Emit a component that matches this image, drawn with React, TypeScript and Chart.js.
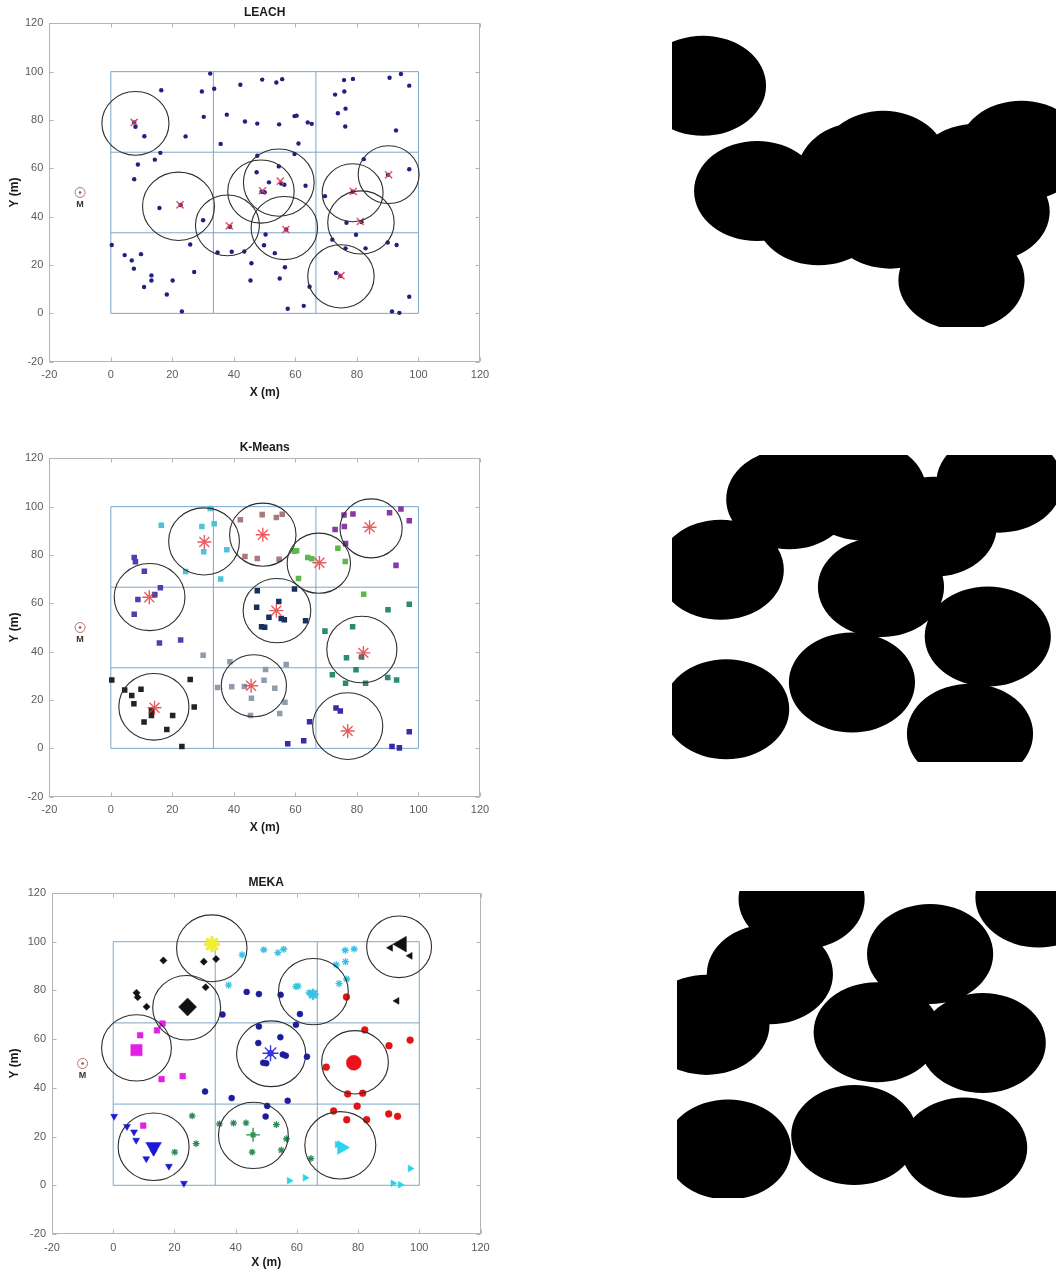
import React, { useEffect, useRef } from "react";
import { Chart, registerables } from "chart.js";

Chart.register(...registerables);

// ---------------- data ----------------
const NODE_X = [
  32.3, 16.4, 29.6, 33.6, 30.2, 37.7, 35.7, 24.3, 7.6, 8.0,
  10.9, 16.1, 14.3, 8.8, 7.6, 15.8, 22.7, 42.1, 49.2, 53.8,
  55.7, 43.6, 47.6, 54.7, 59.7, 60.4, 64.0, 65.3, 61.0, 47.6,
  59.7, 47.4, 54.6, 51.4, 55.4, 56.4, 63.3, 49.0, 50.0, 72.9,
  75.8, 78.7, 75.9, 73.8, 76.3, 76.2, 90.6, 94.3, 97.0, 92.7,
  82.2, 90.1, 97.0, 69.6, 78.6, 76.6, 81.5, 79.7, 72.0, 76.3,
  82.8, 90.0, 92.9, 30.0, 38.7, 57.0, 50.3, 49.8, 0.3, 4.5,
  6.8, 9.8, 7.5, 25.8, 13.2, 13.2, 10.8, 20.1, 27.1, 18.2,
  23.1, 34.7, 39.3, 43.4, 45.7, 45.4, 53.3, 56.6, 54.9, 64.6,
  57.5, 62.7, 73.2, 74.6, 97.0, 91.4, 93.8,
];
const NODE_Y = [
  99.2, 92.3, 91.8, 92.9, 81.3, 82.2, 70.1, 73.2, 79.0, 77.2,
  73.3, 66.4, 63.6, 61.6, 55.5, 43.6, 44.8, 94.6, 96.7, 95.5,
  96.9, 79.4, 78.5, 78.2, 81.6, 81.8, 79.0, 78.4, 70.3, 65.2,
  65.9, 58.4, 60.8, 54.2, 53.7, 53.2, 52.8, 50.3, 50.1, 90.5,
  96.5, 97.0, 91.8, 82.8, 84.7, 77.3, 97.5, 99.0, 94.2, 75.7,
  63.8, 57.3, 59.6, 48.5, 50.3, 37.5, 37.8, 32.5, 30.5, 26.9,
  26.9, 29.3, 28.3, 38.5, 35.8, 34.7, 32.6, 28.2, 28.3, 24.1,
  21.9, 24.5, 18.5, 28.5, 15.7, 13.6, 10.9, 13.6, 17.1, 7.8,
  0.8, 25.2, 25.5, 25.6, 20.7, 13.6, 24.9, 19.1, 14.4, 11.0,
  1.9, 3.1, 16.7, 15.5, 6.9, 0.8, 0.2,
];
const KMEANS_GROUP = [
  0, 0, 0, 0, 0, 0, 0, 0, 4, 4,
  4, 4, 4, 4, 4, 4, 4, 1, 1, 1,
  1, 1, 1, 1, 2, 2, 2, 2, 2, 5,
  5, 5, 5, 5, 5, 5, 5, 5, 5, 3,
  3, 3, 3, 2, 3, 2, 3, 3, 3, 3,
  2, 6, 6, 6, 6, 6, 6, 6, 6, 6,
  6, 6, 6, 8, 8, 8, 8, 8, 7, 7,
  7, 7, 7, 7, 7, 7, 7, 7, 7, 7,
  7, 8, 8, 8, 8, 8, 8, 8, 8, 9,
  9, 9, 9, 9, 9, 9, 9,
];
const MEKA_GROUP = [
  0, 1, 1, 1, 1, 3, 4, 1, 1, 1,
  1, 2, 2, 2, 2, 2, 2, 3, 3, 3,
  3, 4, 4, 4, 3, 3, 3, 3, 4, 4,
  4, 4, 4, 4, 4, 4, 4, 4, 4, 3,
  3, 3, 3, 3, 3, 5, 6, 6, 6, 6,
  5, 5, 5, 5, 5, 5, 5, 5, 5, 5,
  5, 5, 5, 4, 4, 4, 4, 4, 7, 7,
  7, 2, 7, 8, 7, 7, 7, 8, 8, 7,
  7, 8, 8, 8, 8, 8, 8, 8, 8, 8,
  9, 9, 9, 9, 9, 9, 9,
];

// LEACH cluster heads and their rings
const LEACH_CH_X = [7.6, 22.5, 38.5, 49.3, 55.1, 56.9, 78.8, 81.1, 90.3, 74.8];
const LEACH_CH_Y = [79.0, 44.9, 36.2, 50.7, 54.7, 34.7, 50.4, 38.0, 57.3, 15.6];
const LEACH_RING_X = [8.0, 22.0, 37.9, 48.8, 54.6, 56.4, 78.6, 81.3, 90.3, 74.8];
const LEACH_RING_Y = [78.6, 44.3, 36.4, 50.4, 54.1, 35.3, 49.9, 37.6, 57.4, 15.3];
const LEACH_RING_R = [10.9, 11.7, 10.4, 10.8, 11.5, 10.8, 9.9, 10.8, 9.9, 10.8];

// K-Means centroids and rings
const KMEANS_CENTER_X = [30.4, 49.4, 67.8, 84.1, 12.5, 53.8, 82.1, 14.2, 45.6, 77.0];
const KMEANS_CENTER_Y = [85.4, 88.4, 76.8, 91.5, 62.5, 57.0, 39.5, 16.8, 25.9, 7.2];
const KMEANS_RING_X = [30.3, 49.4, 67.6, 84.6, 12.6, 54.0, 81.6, 14.0, 46.5, 77.0];
const KMEANS_RING_Y = [85.6, 88.4, 76.6, 91.0, 62.6, 57.0, 40.9, 17.2, 25.9, 9.2];
const KMEANS_RING_R = [11.5, 10.8, 10.3, 10.1, 11.5, 11.0, 11.4, 11.4, 10.6, 11.4];

// MEKA cluster heads and rings
const MEKA_CH_X = [32.3, 24.3, 7.6, 65.3, 51.4, 78.6, 94.3, 13.2, 45.7, 74.6];
const MEKA_CH_Y = [99.0, 73.2, 55.5, 78.4, 54.2, 50.3, 99.0, 15.7, 20.7, 15.5];
const MEKA_RING_X = [32.2, 24.0, 7.6, 65.4, 51.6, 79.0, 93.4, 13.2, 45.8, 74.2];
const MEKA_RING_Y = [97.3, 72.9, 56.4, 79.5, 54.0, 50.5, 97.9, 15.8, 20.5, 16.4];
const MEKA_RING_R = [11.5, 11.1, 11.4, 11.4, 11.3, 10.9, 10.6, 11.6, 11.4, 11.6];

const COVERAGE_R = 16.3;

const AXIS_TICKS = [-20, 0, 20, 40, 60, 80, 100, 120];
const FIELD_LINES = [0, 33.33, 66.67, 100];
const SINK_X = -10;
const SINK_Y = 50;
const SINK_LABEL = "M";
const SINK_LABEL_Y = 45.2;

// ---------------- styles ----------------
const FONT = '"Liberation Sans", Arial, Helvetica, sans-serif';
const TICK_COLOR = "#5a5a5a";
const BOX_COLOR = "#b4b4b4";
const FIELD_COLOR = "#7aa6c9";
const RING_COLOR = "#2e2e2e";

const KMEANS_COLORS = [
  "#4cc3d9", "#a87a7a", "#5cb84c", "#8a36a8", "#4a40b0",
  "#17305c", "#2a8a72", "#222222", "#8f9cb0", "#3a2ca6",
];

const MEKA_STYLE = [
  { shape: "star", color: "#e6e62a", r: 3.5, chShape: "star", chColor: "#f0ee30", chR: 8, chW: 3.5, rot: 0 },
  { shape: "rectRot", color: "#111111", r: 3.6, chShape: "rectRot", chColor: "#111111", chR: 9, chW: 1, rot: 0 },
  { shape: "rect", color: "#e21fe2", r: 4, chShape: "rect", chColor: "#e21fe2", chR: 8, chW: 1, rot: 0 },
  { shape: "star", color: "#35c2e4", r: 3.6, chShape: "star", chColor: "#35c2e4", chR: 5.5, chW: 2.5, rot: 0 },
  { shape: "circle", color: "#1c1c9c", r: 3, chShape: "star", chColor: "#3535ee", chR: 8, chW: 1.4, rot: 0 },
  { shape: "circle", color: "#e21414", r: 3.4, chShape: "circle", chColor: "#e8141a", chR: 7.5, chW: 1, rot: 0 },
  { shape: "triangle", color: "#111111", r: 4, chShape: "triangle", chColor: "#111111", chR: 9, chW: 1, rot: -90 },
  { shape: "triangle", color: "#1a1ad6", r: 4, chShape: "triangle", chColor: "#1a1ad6", chR: 9, chW: 1, rot: 180 },
  { shape: "star", color: "#2e8b57", r: 3.4, chShape: "cross", chColor: "#2e9b50", chR: 7, chW: 1.4, rot: 0 },
  { shape: "triangle", color: "#28d4ec", r: 4, chShape: "triangle", chColor: "#28d4ec", chR: 8, chW: 1, rot: 90 },
];

const STROKED = new Set(["star", "cross", "crossRot"]);

// ---------------- helpers ----------------
type Pt = { x: number; y: number };
const pts = (xs: number[], ys: number[]): Pt[] => xs.map((x, i) => ({ x, y: ys[i] }));

function fieldDatasets() {
  const ds: any[] = [];
  FIELD_LINES.forEach((v) => {
    ds.push({
      data: [{ x: v, y: 0 }, { x: v, y: 100 }],
      showLine: true, borderColor: FIELD_COLOR, borderWidth: 1, pointRadius: 0, order: 20,
    });
    ds.push({
      data: [{ x: 0, y: v }, { x: 100, y: v }],
      showLine: true, borderColor: FIELD_COLOR, borderWidth: 1, pointRadius: 0, order: 20,
    });
  });
  return ds;
}

function sinkDatasets() {
  return [
    {
      data: [{ x: SINK_X, y: SINK_Y }], pointStyle: "circle", pointRadius: 5,
      backgroundColor: "rgba(0,0,0,0)", borderColor: "#b87070", borderWidth: 1, order: 2,
    },
    {
      data: [{ x: SINK_X, y: SINK_Y }], pointStyle: "circle", pointRadius: 1.3,
      backgroundColor: "#a05050", borderWidth: 0, order: 2,
    },
  ];
}

function styleFor(shape: string, color: string, r: number, w: number, rot: number) {
  const stroked = STROKED.has(shape);
  return {
    pointStyle: shape,
    pointRadius: r,
    pointRotation: rot,
    backgroundColor: stroked ? "rgba(0,0,0,0)" : color,
    borderColor: color,
    borderWidth: stroked ? w : 0.5,
  };
}

function makeDecor(rx: number[], ry: number[], rr: number[]) {
  return {
    id: "decor",
    beforeDatasetsDraw(chart: any) {
      const { ctx, chartArea: a, scales } = chart;
      const x = scales.x, y = scales.y;
      ctx.save();
      ctx.strokeStyle = BOX_COLOR;
      ctx.lineWidth = 1;
      const L = Math.round(a.left) + 0.5, R = Math.round(a.right) - 0.5;
      const T = Math.round(a.top) + 0.5, B = Math.round(a.bottom) - 0.5;
      ctx.strokeRect(L, T, R - L, B - T);
      const tl = 4;
      ctx.beginPath();
      AXIS_TICKS.forEach((v) => {
        const px = Math.round(x.getPixelForValue(v)) + 0.5;
        ctx.moveTo(px, B); ctx.lineTo(px, B - tl);
        ctx.moveTo(px, T); ctx.lineTo(px, T + tl);
        const py = Math.round(y.getPixelForValue(v)) + 0.5;
        ctx.moveTo(L, py); ctx.lineTo(L + tl, py);
        ctx.moveTo(R, py); ctx.lineTo(R - tl, py);
      });
      ctx.stroke();
      ctx.restore();
    },
    afterDatasetsDraw(chart: any) {
      const { ctx, scales } = chart;
      const x = scales.x, y = scales.y;
      ctx.save();
      ctx.strokeStyle = RING_COLOR;
      ctx.lineWidth = 1.1;
      for (let i = 0; i < rx.length; i++) {
        const cx = x.getPixelForValue(rx[i]);
        const cy = y.getPixelForValue(ry[i]);
        const r = Math.abs(x.getPixelForValue(rx[i] + rr[i]) - cx);
        ctx.beginPath();
        ctx.ellipse(cx, cy, r, r * 0.95, 0, 0, Math.PI * 2);
        ctx.stroke();
      }
      ctx.fillStyle = "#333";
      ctx.font = `bold 9px ${FONT}`;
      ctx.textAlign = "center";
      ctx.textBaseline = "middle";
      ctx.fillText(SINK_LABEL, x.getPixelForValue(SINK_X), y.getPixelForValue(SINK_LABEL_Y));
      ctx.restore();
    },
  };
}

type Geom = { padL: number; padR: number; padT: number; padB: number; yw: number; xh: number };

function leftConfig(title: string, datasets: any[], geom: Geom, rings: [number[], number[], number[]]) {
  return {
    type: "scatter",
    data: { datasets },
    options: {
      animation: false,
      responsive: false,
      events: [],
      layout: { padding: { left: geom.padL, right: geom.padR, top: geom.padT, bottom: geom.padB } },
      plugins: {
        legend: { display: false },
        tooltip: { enabled: false },
        title: {
          display: true, text: title, fullSize: false, color: "#1a1a1a",
          font: { family: FONT, size: 12, weight: "bold" }, padding: { top: 4, bottom: 3 },
        },
      },
      scales: {
        x: {
          type: "linear", min: -20, max: 120,
          afterBuildTicks: (s: any) => { s.ticks = AXIS_TICKS.map((v) => ({ value: v })); },
          ticks: { font: { family: FONT, size: 11 }, color: TICK_COLOR, padding: 7, maxRotation: 0, autoSkip: false },
          grid: { display: false, drawTicks: false },
          border: { display: false },
          title: { display: true, text: "X (m)", color: "#1a1a1a", font: { family: FONT, size: 12, weight: "bold" }, padding: 0 },
          afterFit: (s: any) => { s.height = geom.xh; },
        },
        y: {
          type: "linear", min: -20, max: 120,
          afterBuildTicks: (s: any) => { s.ticks = AXIS_TICKS.map((v) => ({ value: v })); },
          ticks: { font: { family: FONT, size: 11 }, color: TICK_COLOR, padding: 6, autoSkip: false },
          grid: { display: false, drawTicks: false },
          border: { display: false },
          title: { display: true, text: "Y (m)", color: "#1a1a1a", font: { family: FONT, size: 12, weight: "bold" }, padding: 0 },
          afterFit: (s: any) => { s.width = geom.yw; },
        },
      },
    },
    plugins: [makeDecor(rings[0], rings[1], rings[2])],
  };
}

function leachDatasets() {
  return [
    ...fieldDatasets(),
    ...sinkDatasets(),
    {
      data: pts(NODE_X, NODE_Y), pointStyle: "circle", pointRadius: 2.2,
      backgroundColor: "#20207e", borderWidth: 0, order: 5,
    },
    {
      data: pts(LEACH_CH_X, LEACH_CH_Y), pointStyle: "crossRot", pointRadius: 5,
      borderColor: "rgba(226,58,84,0.85)", borderWidth: 1.5, order: 1,
    },
  ];
}

function kmeansDatasets() {
  const ds: any[] = [...fieldDatasets(), ...sinkDatasets()];
  KMEANS_COLORS.forEach((c, k) => {
    const xs: number[] = [], ys: number[] = [];
    KMEANS_GROUP.forEach((g, i) => { if (g === k) { xs.push(NODE_X[i]); ys.push(NODE_Y[i]); } });
    ds.push({ data: pts(xs, ys), pointStyle: "rect", pointRadius: 3.9, backgroundColor: c, borderWidth: 0, order: 5 });
  });
  ds.push({
    data: pts(KMEANS_CENTER_X, KMEANS_CENTER_Y), pointStyle: "star", pointRadius: 7,
    borderColor: "rgba(228,52,52,0.8)", borderWidth: 1.4, order: 1,
  });
  return ds;
}

function mekaDatasets() {
  const ds: any[] = [...fieldDatasets(), ...sinkDatasets()];
  MEKA_STYLE.forEach((s, m) => {
    const xs: number[] = [], ys: number[] = [];
    MEKA_GROUP.forEach((g, i) => { if (g === m) { xs.push(NODE_X[i]); ys.push(NODE_Y[i]); } });
    ds.push({ data: pts(xs, ys), ...styleFor(s.shape, s.color, s.r, 1.3, s.rot), order: 5 });
    ds.push({ data: [{ x: MEKA_CH_X[m], y: MEKA_CH_Y[m] }], ...styleFor(s.chShape, s.chColor, s.chR, s.chW, s.rot), order: 1 });
  });
  return ds;
}

function makeCoverage(cx: number[], cy: number[]) {
  return {
    id: "coverage",
    afterDatasetsDraw(chart: any) {
      const { ctx, chartArea: a, scales } = chart;
      const x = scales.x, y = scales.y;
      ctx.save();
      ctx.beginPath();
      ctx.rect(a.left, a.top, a.right - a.left, a.bottom - a.top);
      ctx.clip();
      ctx.fillStyle = "#000";
      ctx.beginPath();
      for (let i = 0; i < cx.length; i++) {
        const px = x.getPixelForValue(cx[i]);
        const py = y.getPixelForValue(cy[i]);
        const rx = Math.abs(x.getPixelForValue(cx[i] + COVERAGE_R) - px);
        const ry = Math.abs(y.getPixelForValue(cy[i] + COVERAGE_R) - py);
        ctx.moveTo(px + rx, py);
        ctx.ellipse(px, py, rx, ry, 0, 0, Math.PI * 2);
      }
      ctx.fill();
      ctx.restore();
    },
  };
}

function rightConfig(cx: number[], cy: number[], pad: { left: number; right: number; top: number; bottom: number }) {
  return {
    type: "scatter",
    data: { datasets: [{ data: pts(cx, cy), pointRadius: 0 }] },
    options: {
      animation: false,
      responsive: false,
      events: [],
      layout: { padding: pad },
      plugins: { legend: { display: false }, tooltip: { enabled: false } },
      scales: {
        x: { type: "linear", min: 0, max: 100, display: false },
        y: { type: "linear", min: 0, max: 100, display: false },
      },
    },
    plugins: [makeCoverage(cx, cy)],
  };
}

function ChartBox(props: { make: () => any; left: number; top: number; width: number; height: number }) {
  const ref = useRef<HTMLCanvasElement>(null);
  useEffect(() => {
    const chart = new Chart(ref.current as HTMLCanvasElement, props.make());
    return () => chart.destroy();
  }, []);
  return (
    <canvas
      ref={ref}
      width={props.width}
      height={props.height}
      style={{ position: "absolute", left: props.left, top: props.top, width: props.width, height: props.height }}
    />
  );
}

const GEOM_A: Geom = { padL: 7.8, padR: 20, padT: 1.9, padB: 19.8, yw: 41.5, xh: 38.5 };
const GEOM_M: Geom = { padL: 7.8, padR: 19.5, padT: 1.6, padB: 19.8, yw: 44.2, xh: 36.2 };

export default function App() {
  return (
    <div
      style={{
        position: "absolute", left: 0, top: 0, width: 1056, height: 1277,
        overflow: "hidden", background: "#ffffff",
      }}
    >
      <ChartBox left={0} top={0} width={500} height={420}
        make={() => leftConfig("LEACH", leachDatasets(), GEOM_A, [LEACH_RING_X, LEACH_RING_Y, LEACH_RING_R])} />
      <ChartBox left={0} top={435} width={500} height={420}
        make={() => leftConfig("K-Means", kmeansDatasets(), GEOM_A, [KMEANS_RING_X, KMEANS_RING_Y, KMEANS_RING_R])} />
      <ChartBox left={0} top={870} width={500} height={420}
        make={() => leftConfig("MEKA", mekaDatasets(), GEOM_M, [MEKA_RING_X, MEKA_RING_Y, MEKA_RING_R])} />
      <ChartBox left={660} top={0} width={410} height={340}
        make={() => rightConfig(LEACH_RING_X, LEACH_RING_Y, { left: 12, right: 11, top: 20, bottom: 13 })} />
      <ChartBox left={660} top={435} width={410} height={340}
        make={() => rightConfig(KMEANS_RING_X, KMEANS_RING_Y, { left: 12, right: 11, top: 20, bottom: 13 })} />
      <ChartBox left={660} top={870} width={410} height={340}
        make={() => rightConfig(MEKA_RING_X, MEKA_RING_Y, { left: 17, right: 6, top: 21, bottom: 12 })} />
    </div>
  );
}
